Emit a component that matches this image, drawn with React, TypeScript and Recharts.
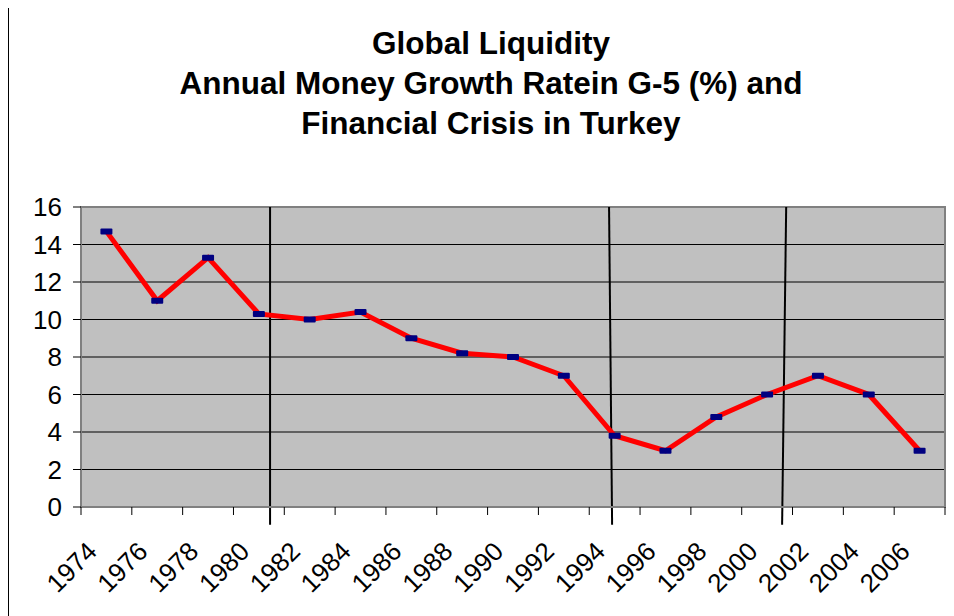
import {
  LineChart,
  Line,
  XAxis,
  YAxis,
  CartesianGrid,
  ReferenceArea,
  ReferenceLine,
} from 'recharts';

const years = [1974, 1976, 1978, 1980, 1982, 1984, 1986, 1988, 1990, 1992, 1994, 1996, 1998, 2000, 2002, 2004, 2006];
const growth = [14.7, 11, 13.3, 10.3, 10.0, 10.4, 9.0, 8.2, 8.0, 7.0, 3.8, 3.0, 4.8, 6.0, 7.0, 6.0, 3.0];
const yTicks = [0, 2, 4, 6, 8, 10, 12, 14, 16];

// hand-drawn crisis markers (year at top of plot, year at bottom end)
const crisisLines = [
  { top: 1980.44, bottom: 1980.44 },
  { top: 1993.78, bottom: 1993.9 },
  { top: 2000.75, bottom: 2000.59 },
];

const titleLines = [
  'Global Liquidity',
  'Annual Money Growth Ratein G-5 (%) and',
  'Financial Crisis in Turkey',
];

const data = years.map((year, i) => ({ year, growth: growth[i] }));

const FONT = '"Liberation Sans", Arial, Helvetica, sans-serif';
const X_DOMAIN: [number, number] = [1973, 2007];
const PLOT_W = 864;
const PX_PER_YEAR = PLOT_W / (X_DOMAIN[1] - X_DOMAIN[0]);

function YearTick(props: any) {
  const { x, y, payload, index } = props;
  const ax = x - 8;
  const ay = y + 38;
  return (
    <g>
      <line x1={x - PX_PER_YEAR} y1={y - 8} x2={x - PX_PER_YEAR} y2={y} stroke="#000" />
      {index === years.length - 1 && (
        <line x1={x + PX_PER_YEAR} y1={y - 8} x2={x + PX_PER_YEAR} y2={y} stroke="#000" />
      )}
      <text
        x={ax}
        y={ay}
        textAnchor="end"
        fontSize={26}
        fill="#000"
        fontFamily={FONT}
        transform={`rotate(-45 ${ax} ${ay})`}
      >
        {payload.value}
      </text>
    </g>
  );
}

function DashDot(props: any) {
  const { cx, cy } = props;
  if (cx == null || cy == null) return null;
  return <rect x={cx - 6} y={cy - 3} width={12} height={6} rx={1} fill="#000080" />;
}

export default function App() {
  return (
    <div style={{ position: 'relative', width: 954, height: 616, marginTop: -8, marginLeft: -8, background: '#fff', overflow: 'hidden' }}>
      {/* chart frame (only left and top edges are visible in the crop) */}
      <div
        style={{
          position: 'absolute',
          left: 7,
          top: 5,
          width: 960,
          height: 620,
          borderLeft: '2px solid #000',
          borderTop: '2px solid #000',
        }}
      />

      {/* title */}
      <div
        style={{
          position: 'absolute',
          left: 0,
          top: 23,
          width: 982,
          textAlign: 'center',
          fontFamily: FONT,
          fontWeight: 'bold',
          fontSize: 31.5,
          lineHeight: '40px',
          color: '#000',
        }}
      >
        {titleLines.map(t => (
          <div key={t}>{t}</div>
        ))}
      </div>

      <div style={{ position: 'absolute', left: 0, top: 0 }}>
        <LineChart
          width={954}
          height={616}
          data={data}
          margin={{ top: 207, right: 9, left: 21, bottom: 49 }}
        >
          <CartesianGrid vertical={false} stroke="#000" fill="#C0C0C0" fillOpacity={1} />
          <XAxis
            dataKey="year"
            type="number"
            domain={X_DOMAIN}
            ticks={years}
            interval={0}
            height={60}
            tickSize={8}
            tickMargin={0}
            tickLine={false}
            axisLine={{ stroke: '#808080', strokeWidth: 2 }}
            tick={<YearTick />}
          />
          <YAxis
            type="number"
            domain={[0, 16]}
            ticks={yTicks}
            interval={0}
            width={60}
            tickSize={8}
            tickMargin={11}
            tickLine={{ stroke: '#000' }}
            axisLine={{ stroke: '#808080', strokeWidth: 2 }}
            tick={{ fontSize: 26, fill: '#000', fontFamily: FONT }}
          />
          <ReferenceArea
            x1={X_DOMAIN[0]}
            x2={X_DOMAIN[1]}
            y1={0}
            y2={16}
            fill="none"
            stroke="#808080"
            strokeWidth={2}
          />
          {crisisLines.map((c, i) => (
            <ReferenceLine
              key={i}
              segment={[
                { x: c.top, y: 16 },
                { x: c.bottom, y: -0.95 },
              ]}
              stroke="#000"
              strokeWidth={2}
              ifOverflow="visible"
            />
          ))}
          <Line
            type="linear"
            dataKey="growth"
            stroke="#FF0000"
            strokeWidth={5}
            dot={<DashDot />}
            activeDot={false}
            isAnimationActive={false}
          />
        </LineChart>
      </div>
    </div>
  );
}
